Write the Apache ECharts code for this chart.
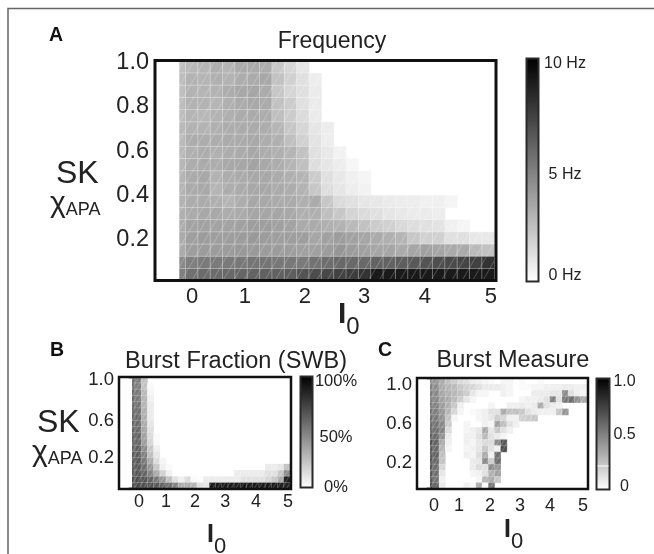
<!DOCTYPE html>
<html><head><meta charset="utf-8"><style>html,body{margin:0;padding:0;background:#fff}#c{width:654px;height:554px}</style>
<script src="https://cdn.jsdelivr.net/npm/echarts@6/dist/echarts.min.js"></script></head>
<body><div id="c"></div><script>
// Rows run from chi_APA = 1.0 (top) to 0 (bottom); columns from I0 = 0 to 5. Missing cells are empty.
const frequencyHz = [
[2.5,2.8,2.9,3.1,2.9,3.3,3.3,3.2,2.2,1.6,1.0],
[2.6,3.0,2.9,3.1,3.0,3.2,3.3,3.4,2.4,1.8,1.2,.7],
[2.5,3.0,2.9,3.0,3.2,3.4,3.5,3.3,2.2,1.6,1.2,.8],
[2.6,3.0,3.0,2.9,3.1,3.3,3.4,3.3,2.4,2.0,1.2,.8],
[2.6,2.9,2.8,3.0,3.1,3.3,3.3,3.2,2.5,2.0,1.4,.8],
[2.7,3.0,3.0,3.1,3.2,3.3,3.3,3.2,2.9,2.2,1.6,1.0,.7],
[2.7,3.2,3.2,3.2,3.3,3.3,3.4,3.2,3.1,2.5,1.8,1.1,.7],
[2.8,3.1,3.2,3.1,3.2,3.3,3.4,3.2,3.1,2.9,2.4,1.2,.9,.5],
[2.8,3.2,3.3,3.2,3.4,3.5,3.6,3.4,3.2,2.9,2.5,1.3,1.0,.7,.35],
[2.9,3.3,3.4,3.0,3.2,3.3,3.4,3.4,3.3,3.1,2.9,2.0,1.2,.9,.6,.4],
[3.0,3.3,3.4,2.9,3.2,3.3,3.4,3.4,3.3,3.2,3.0,2.2,1.3,1.0,.7,.5],
[3.0,3.2,3.3,3.1,2.9,3.2,3.4,3.4,3.3,3.3,3.1,3.3,2.2,1.4,1.2,1.0,.9,.8,.7,.7,.6,.6,.4],
[3.1,3.3,3.4,3.4,3.2,3.3,3.5,3.5,3.5,3.4,3.1,3.1,2.5,2.2,1.7,1.4,1.2,1.0,.9,.8,.8,.7],
[3.2,3.6,3.7,3.6,3.6,3.7,3.8,3.8,3.7,3.6,3.3,3.3,3.1,3.0,2.7,2.4,2.0,1.8,1.5,1.3,1.2,1.1,.6,.4],
[3.3,3.8,3.9,3.8,3.8,3.9,4.0,3.9,3.8,3.8,3.8,3.5,3.7,3.9,3.7,3.5,3.3,3.1,2.9,2.2,1.8,1.8,1.2,1.2,.9,.9],
[3.3,3.8,3.9,3.9,3.9,4.0,4.0,3.9,3.9,3.8,3.7,3.7,3.9,4.1,3.9,3.7,3.5,3.5,3.3,3.5,3.7,3.5,3.3,3.3,2.7,2.4],
[4.6,5.0,5.2,5.2,5.2,5.3,5.4,5.4,5.3,5.3,5.2,5.5,5.7,5.9,5.9,5.9,6.1,6.1,6.3,6.5,6.7,6.9,7.1,7.3,7.5,8.0],
[5.0,5.6,5.8,5.8,5.9,6.0,6.1,6.2,6.2,6.3,6.7,7.0,7.2,7.4,7.6,8.0,9,9,9,9,9,9,9,9,9,9]
];
const burstFractionPct = [
[57,51,24],
[57,51,24,2],
[59,53,27,4],
[59,53,29,6],
[59,55,29,8],
[61,57,31,8],
[61,59,31,8],
[61,59,33,10],
[61,59,35,12],
[63,61,37,14,2],
[63,61,39,16,2],
[63,63,45,22,6],
[65,63,49,25,10],
[65,65,53,33,14,4],
[67,65,57,41,22,6,2,0,0,0,0,0,0,0,0,0,0,0,0,0,0,0,8,8,10,25],
[67,67,61,49,33,18,6,0,0,0,0,0,0,0,0,0,0,8,8,8,8,8,12,12,22,45],
[69,69,67,61,53,41,25,12,6,14,2,0,8,8,8,8,8,8,12,12,12,12,16,22,33,88],
[69,71,69,67,65,61,57,49,33,33,29,12,10,90,90,90,90,90,90,90,90,90,90,90,88,86]
];
const burstMeasure = [
[.45,.41,.33,.25,.2,.14,.12,.08,.06,.04,.02,0,.04,.04,0,.02,0,0,.02],
[.49,.45,.33,.29,.27,.22,.18,.16,.12,.08,.08,.08,.06,.04,0,.02,.02,.04,.04,.06,.06,.06,.08,.08,.06,.06],
[.51,.47,.35,.31,.29,.25,.2,.1,.04,.04,0,0,.06,.04,0,0,0,.08,.08,.08,.1,.1,.45,.12,.06,.04],
[.51,.47,.37,.33,.27,.2,.1,.04,0,0,0,0,0,0,0,.04,.06,.06,.08,.12,.49,.12,.53,.57,.43,.33],
[.53,.49,.39,.31,.22,.06,0,0,0,0,.04,0,0,.06,.06,.08,.06,.08,.33,.12,.08,.06],
[.55,.51,.41,.29,.16,.04,0,.02,.04,.06,.12,.12,.33,.24,.25,.22,.12,.08,.06,.06,.06,.22,.41],
[.57,.53,.43,.24,.04,0,0,0,.04,.06,.1,.2,.16,.06,.06,.18,.2,.22],
[.59,.55,.47,.2,0,0,.04,0,0,.06,.04,.37,.25,.12,.06],
[.61,.57,.49,.14,0,0,.04,.06,.1,.33,.1,.22,.12,.06],
[.63,.59,.43,.08,0,0,.06,.06,.12,.27,.12,.08,.04],
[.67,.61,.33,.06,0,0,.06,.04,.1,.14,.14,.45,.65],
[.65,.59,.29,.04,0,0,.04,.06,.1,.22,.12,.06,.69],
[.67,.61,.25,0,0,0,.06,.04,.14,.33,.06,.57],
[.67,.59,.24,0,0,0,0,.08,.1,.45,.2,.57],
[.65,.57,.16,0,0,0,0,.08,.14,.12,.45,.41],
[.65,.57,.1,0,0,0,0,.04,.06,.12,.31,.37],
[.67,.55,.06,0,0,0,0,0,.04,.29,.33,.22],
[.69,.61,.08,0,0,0,.06,.02,.33,.02,.53]
];
const titles = ['Frequency','Burst Fraction (SWB)','Burst Measure'];
const yTickLabels = [['1.0','0.8','0.6','0.4','0.2'],['1.0','0.6','0.2'],['1.0','0.6','0.2']];
const yTickValues = [[1,.8,.6,.4,.2],[1,.58,.2],[1,.6,.2]];
const xTickLabels = ['0','1','2','3','4','5'];
const xTickValues = [[0,.88,1.88,2.87,3.88,4.98],[0,.906,1.88,2.89,3.93,5],[0,.84,1.88,2.89,3.89,5]];
const barTickLabels = [['0 Hz','5 Hz','10 Hz'],['0%','50%','100%'],['0','0.5','1.0']];
const barTickValues = [[0,4.76,10],[0,47.6,100],[0,.5,1]];

const ink = '#222';
const font = '"Liberation Sans", Arial, sans-serif';
const panels = [
 {rows:frequencyHz, max:10, heat:[173.35,61,321.1,220], frame:[155,60.5,341,220], mask:[157,62,22.3,217],
  xr:[-.617,5.067], yr:[.018,1.007], fx:22, fy:23.5, cell:.5, xm:5,
  bar:[526.5,58.5,12,223], br:[-.27,10.26], fb:16, bm:26.5},
 {rows:burstFractionPct, max:100, heat:[128.9,377,161.2,112], frame:[119,377,172,112], mask:[120.5,378.5,11.5,109],
  xr:[-.671,5.1], yr:[-.118,1.03], fx:18, fy:18.5, cell:.3, xm:4,
  bar:[300.5,376.5,12,111], br:[0,104.7], fb:16.5, bm:23.5},
 {rows:burstMeasure, max:1, heat:[426.9,378,160,111], frame:[417,378,171,111], mask:[418.5,379.5,11.5,108],
  xr:[-.57,5.168], yr:[-.067,1.072], fx:18, fy:18.5, cell:.3, xm:8,
  bar:[596.5,378.5,13,111], br:[-.024,1.033], fb:16, bm:15}
];
const box = b => ({left:b[0],top:b[1],width:b[2],height:b[3]});
const colNames = Array.from({length:26},(_,i)=>(i*.2).toFixed(1));
const rowNames = Array.from({length:18},(_,i)=>(1-i/17).toFixed(2));

const grid=[],xAxis=[],yAxis=[],series=[],visualMap=[],title=[];
panels.forEach((p,k)=>{
  grid[k] = {...box(p.heat),show:false};
  grid[k+3] = {...box(p.frame),show:true,borderColor:'#111',borderWidth:k?2.5:3,backgroundColor:'transparent',z:6};
  grid[k+6] = {...box(p.bar),show:true,borderColor:'#2a2a2a',borderWidth:2,backgroundColor:'transparent',z:6};
  xAxis[k] = {type:'category',gridIndex:k,data:colNames,show:false};
  yAxis[k] = {type:'category',gridIndex:k,data:rowNames,inverse:true,show:false};
  xAxis[k+3] = {type:'value',gridIndex:k+3,min:p.xr[0],max:p.xr[1],splitLine:{show:false},axisLine:{show:false},axisTick:{show:false},
    axisLabel:{customValues:xTickValues[k],formatter:v=>xTickLabels[Math.round(v)],fontSize:p.fx,fontFamily:font,color:ink,margin:p.xm}};
  yAxis[k+3] = {type:'value',gridIndex:k+3,min:p.yr[0],max:p.yr[1],splitLine:{show:false},axisLine:{show:false},axisTick:{show:false},
    axisLabel:{customValues:yTickValues[k],formatter:v=>yTickLabels[k][yTickValues[k].indexOf(v)],fontSize:p.fy,fontFamily:font,color:ink,margin:k?5:6}};
  xAxis[k+6] = {type:'value',gridIndex:k+6,show:false,min:0,max:1};
  yAxis[k+6] = {type:'value',gridIndex:k+6,position:'right',min:p.br[0],max:p.br[1],splitLine:{show:false},axisLine:{show:false},axisTick:{show:false},
    axisLabel:{customValues:barTickValues[k],formatter:v=>barTickLabels[k][barTickValues[k].indexOf(v)],fontSize:p.fb,fontFamily:font,color:ink,align:'center',margin:p.bm}};
  const data=[];
  p.rows.forEach((r,j)=>r.forEach((v,i)=>{ if(v>0) data.push([i,j,v]); }));
  series.push({type:'heatmap',xAxisIndex:k,yAxisIndex:k,data,progressive:0,animation:false,silent:true,
    itemStyle:{borderColor:'rgba(255,255,255,.35)',borderWidth:p.cell,
      decal:{symbol:'rect',symbolSize:1,dashArrayX:[1,0],dashArrayY:k?[1,3]:[1,8],rotation:-Math.PI/3,color:'rgba(255,255,255,.2)'}}});
  visualMap.push({type:'continuous',seriesIndex:k,min:0,max:p.max,show:true,calculable:false,hoverLink:false,realtime:false,
    left:p.bar[0],top:p.bar[1],itemWidth:p.bar[2],itemHeight:p.bar[3],padding:0,text:null,showLabel:false,
    inRange:{color:['#ffffff','#000000']},textStyle:{color:'transparent',fontSize:1}});
});
const titlePos=[[332,42,23],[236,362,23.5],[513,361,23.5]];
titles.forEach((t,i)=>title.push({text:t,left:titlePos[i][0],top:titlePos[i][1],textAlign:'center',textVerticalAlign:'middle',padding:0,
  textStyle:{fontSize:titlePos[i][2],fontWeight:'normal',fontFamily:font,color:ink}}));

const txt=(x,y,text,size,extra)=>({type:'text',left:x,top:y,z:8,silent:true,style:{text,fontSize:size,fontFamily:font,fill:ink,...extra}});
const chiRich=(s,a)=>({rich:{c:{fontSize:s,fontFamily:font,fill:ink,color:ink},a:{fontSize:a,fontFamily:font,color:ink,verticalAlign:'bottom',padding:[0,0,0,0]}}});
const iRich=(s,o)=>({rich:{i:{fontSize:s,fontWeight:'bold',fontFamily:font,color:'#222'},o:{fontSize:o,fontFamily:font,color:ink,padding:[o*1.05,0,0,0]}}});
const graphic=[
  {type:'polyline',z:1,silent:true,shape:{points:[[8,554],[8,8.5],[654,8.5]]},style:{stroke:'#666',lineWidth:1.5,fill:null}},
  ...panels.map(p=>({type:'rect',z:5,silent:true,shape:{x:p.mask[0],y:p.mask[1],width:p.mask[2],height:p.mask[3]},style:{fill:'#fff'}})),
  {type:'line',z:7,silent:true,shape:{x1:597.5,y1:466,x2:608.5,y2:466},style:{stroke:'#fff',lineWidth:1}},
  txt(49,26,'A',19.5,{fontWeight:'bold',fill:'#111'}),
  txt(50,341,'B',19.5,{fontWeight:'bold',fill:'#111'}),
  txt(378,341,'C',19.5,{fontWeight:'bold',fill:'#111'}),
  txt(56,158,'SK',32),
  txt(37,407,'SK',32),
  txt(50,189,'{c|χ}{a|APA}',18,chiRich(30,18)),
  txt(32,438,'{c|χ}{a|APA}',18,chiRich(30,18)),
  txt(338,300,'{i|I}{o|0}',30,iRich(30,24)),
  txt(207,523,'{i|I}{o|0}',25,iRich(25,22)),
  txt(504,518,'{i|I}{o|0}',25,iRich(25,22))
];
const chart=echarts.init(document.getElementById('c'),null,{renderer:'canvas'});
chart.setOption({animation:false,backgroundColor:'#fff',title,grid,xAxis,yAxis,series,visualMap,graphic});
</script></body></html>
